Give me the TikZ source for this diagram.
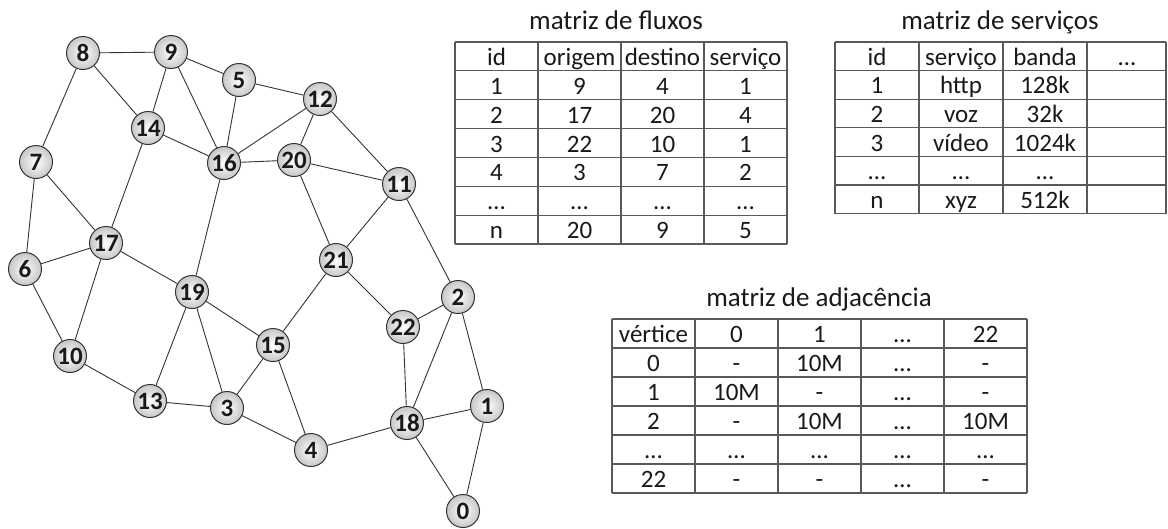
\documentclass[tikz,border=0pt]{standalone}
\usepackage{fontspec}
\setmainfont{Carlito}
\begin{document}
\begin{tikzpicture}[x=1pt,y=-1pt,
  vtx/.style={circle, draw=black!80, line width=1pt, minimum size=33pt, inner sep=0pt,
    inner color=white, outer color=black!22, font=\fontsize{25}{25}\selectfont\bfseries, text=black!90},
  edge/.style={draw=black!80, line width=0.9pt},
  gridline/.style={draw=black!65, line width=1.1pt},
  cell/.style={anchor=base, inner sep=0pt, font=\fontsize{25}{30}\selectfont, text=black!90},
  ttl/.style={anchor=base, inner sep=0pt, font=\fontsize{27}{32}\selectfont, text=black!90}]
\useasboundingbox (0,0) rectangle (1168,528);

% ---------------- graph ----------------
\foreach \n/\x/\y in {0/463/511, 1/487/406, 2/458/297, 3/227/408, 4/311/450, 5/239/80,
  6/25/269, 7/36/162, 8/83/53, 9/171/52, 10/70/356, 11/399/184, 12/320/99, 13/150/401,
  14/148/128, 15/273/345, 16/224/163, 17/106/243, 18/407/423, 19/192/292, 20/294/160,
  21/336/260, 22/403/327}
  \node[vtx] (v\n) at (\x,\y) {\n};

\foreach \a/\b in {8/9, 8/7, 8/14, 9/14, 9/16, 9/5, 5/12, 5/16, 12/16, 12/20, 12/11,
  14/16, 14/17, 16/20, 16/19, 20/11, 20/21, 11/21, 11/2, 7/17, 7/6, 17/6, 17/10, 17/19,
  6/10, 19/15, 19/13, 19/3, 21/15, 21/22, 2/22, 2/18, 2/1, 22/18, 15/3, 15/4, 10/13,
  13/3, 3/4, 4/18, 18/1, 18/0, 1/0}
  \draw[edge] (v\a) -- (v\b);

% ---------------- matriz de fluxos ----------------
\node[ttl] (tfx) at (616,29) {matriz de fluxos};
\foreach \i in {0,...,7} {
  \pgfmathsetmacro\yy{42+28.857*\i}
  \draw[gridline] (455,\yy) -- (787,\yy);
}
\foreach \xx in {455,538,621,704,787}
  \draw[gridline] (\xx,42) -- (\xx,244);
\foreach \r/\a/\b/\c/\d in {0/id/origem/destino/serviço, 1/1/9/4/1, 2/2/17/20/4,
  3/3/22/10/1, 4/4/3/7/2, 5/…/…/…/…, 6/n/20/9/5} {
  \pgfmathsetmacro\yb{42+28.857*(\r+0.5)+9}
  \node[cell] (fx-\r-1) at (496.5,\yb) {\a};
  \node[cell] (fx-\r-2) at (579.5,\yb) {\b};
  \node[cell] (fx-\r-3) at (662.5,\yb) {\c};
  \node[cell] (fx-\r-4) at (745.5,\yb) {\d};
}

% ---------------- matriz de serviços ----------------
\node[ttl] (tsv) at (1000,29) {matriz de serviços};
\foreach \i in {0,...,6} {
  \pgfmathsetmacro\yy{42+28.6*\i}
  \draw[gridline] (835,\yy) -- (1166,\yy);
}
\foreach \xx in {835,919,1003,1087,1166}
  \draw[gridline] (\xx,42) -- (\xx,213.6);
\foreach \r/\a/\b/\c/\d in {0/id/serviço/banda/…, 1/1/http/128k/, 2/2/voz/32k/,
  3/3/vídeo/1024k/, 4/…/…/…/, 5/n/xyz/512k/} {
  \pgfmathsetmacro\yb{42+28.6*(\r+0.5)+9}
  \node[cell] (sv-\r-1) at (877,\yb) {\a};
  \node[cell] (sv-\r-2) at (961,\yb) {\b};
  \node[cell] (sv-\r-3) at (1045,\yb) {\c};
  \node[cell] (sv-\r-4) at (1127,\yb) {\d};
}

% ---------------- matriz de adjacência ----------------
\node[ttl] (tad) at (819,306) {matriz de adjacência};
\foreach \i in {0,...,6} {
  \pgfmathsetmacro\yy{319+29*\i}
  \draw[gridline] (612,\yy) -- (1027,\yy);
}
\foreach \xx in {612,695,778,861,944,1027}
  \draw[gridline] (\xx,319) -- (\xx,493);
\foreach \r/\a/\b/\c/\d/\e in {0/vértice/0/1/…/22, 1/0/-/10M/…/-, 2/1/10M/-/…/-,
  3/2/-/10M/…/10M, 4/…/…/…/…/…, 5/22/-/-/…/-} {
  \pgfmathsetmacro\yb{319+29*(\r+0.5)+9}
  \node[cell] (ad-\r-1) at (653.5,\yb) {\a};
  \node[cell] (ad-\r-2) at (736.5,\yb) {\b};
  \node[cell] (ad-\r-3) at (819.5,\yb) {\c};
  \node[cell] (ad-\r-4) at (902.5,\yb) {\d};
  \node[cell] (ad-\r-5) at (985.5,\yb) {\e};
}
\end{tikzpicture}
\end{document}
